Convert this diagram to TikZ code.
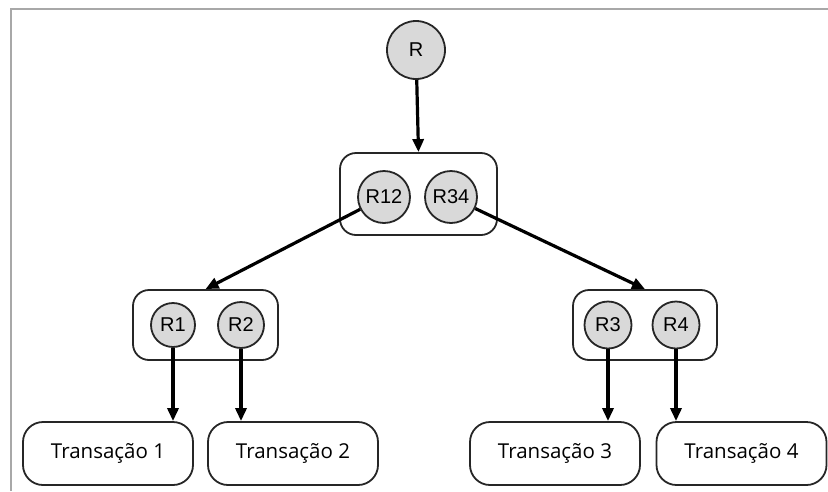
\documentclass[tikz,border=0pt]{standalone}
\usepackage{fontspec}
\setmainfont{Liberation Sans}
\newfontfamily\boxfont{Open Sans}
\usetikzlibrary{arrows.meta}
\definecolor{discfill}{HTML}{D9D9D9}
\definecolor{framegray}{HTML}{A8A8A8}
\tikzset{
  disc/.style={circle, draw=black!85, line width=1.8pt, fill=discfill,
    inner sep=0pt, minimum size=#1, font=\fontsize{20}{22}\selectfont},
  groupbox/.style={draw=black!85, line width=1.8pt, rounded corners=16pt,
    inner sep=0pt},
  txbox/.style={draw=black!85, line width=1.8pt, rounded corners=20pt,
    minimum width=170pt, minimum height=63pt, inner sep=0pt,
    font=\boxfont\fontsize{20.5}{23}\selectfont},
  link/.style={line width=3.2pt, -{Triangle[length=13pt,width=11pt]}}
}
\begin{document}
\begin{tikzpicture}[x=1pt,y=-1pt]
  \useasboundingbox (0,0) rectangle (828,491);
  % outer frame lines
  \draw[framegray, line width=2pt] (11,491) -- (11,9) -- (828,9);

  % root
  \node[disc=58pt] (r) at (416,50) {R};

  % middle group
  \node[groupbox, minimum width=157pt, minimum height=82pt] (gm) at (418.5,194) {};
  \node[disc=52pt] (r12) at (384,197) {R12};
  \node[disc=52pt] (r34) at (451,197) {R34};

  % left group
  \node[groupbox, minimum width=145pt, minimum height=70pt] (gl) at (205.5,325) {};
  \node[disc=44pt] (r1) at (173,325) {R1};
  \node[disc=46pt] (r2) at (241,325) {R2};

  % right group
  \node[groupbox, minimum width=144pt, minimum height=70pt] (gr) at (645,325) {};
  \node[disc=47pt] (r3) at (608,325) {R3};
  \node[disc=47pt] (r4) at (676,325) {R4};

  % transactions
  \node[txbox] (t1) at (108,453.5) {Transação 1};
  \node[txbox] (t2) at (293,453.5) {Transação 2};
  \node[txbox] (t3) at (555,453.5) {Transação 3};
  \node[txbox] (t4) at (741.5,453.5) {Transação 4};

  % connectors
  \draw[link] (r) -- (gm.north);
  \draw[link] (r12) -- (gl.north);
  \draw[link] (r34) -- (gr.north);
  \draw[link] (r1) -- (r1 |- t1.north);
  \draw[link] (r2) -- (r2 |- t2.north);
  \draw[link] (r3) -- (r3 |- t3.north);
  \draw[link] (r4) -- (r4 |- t4.north);
\end{tikzpicture}
\end{document}
